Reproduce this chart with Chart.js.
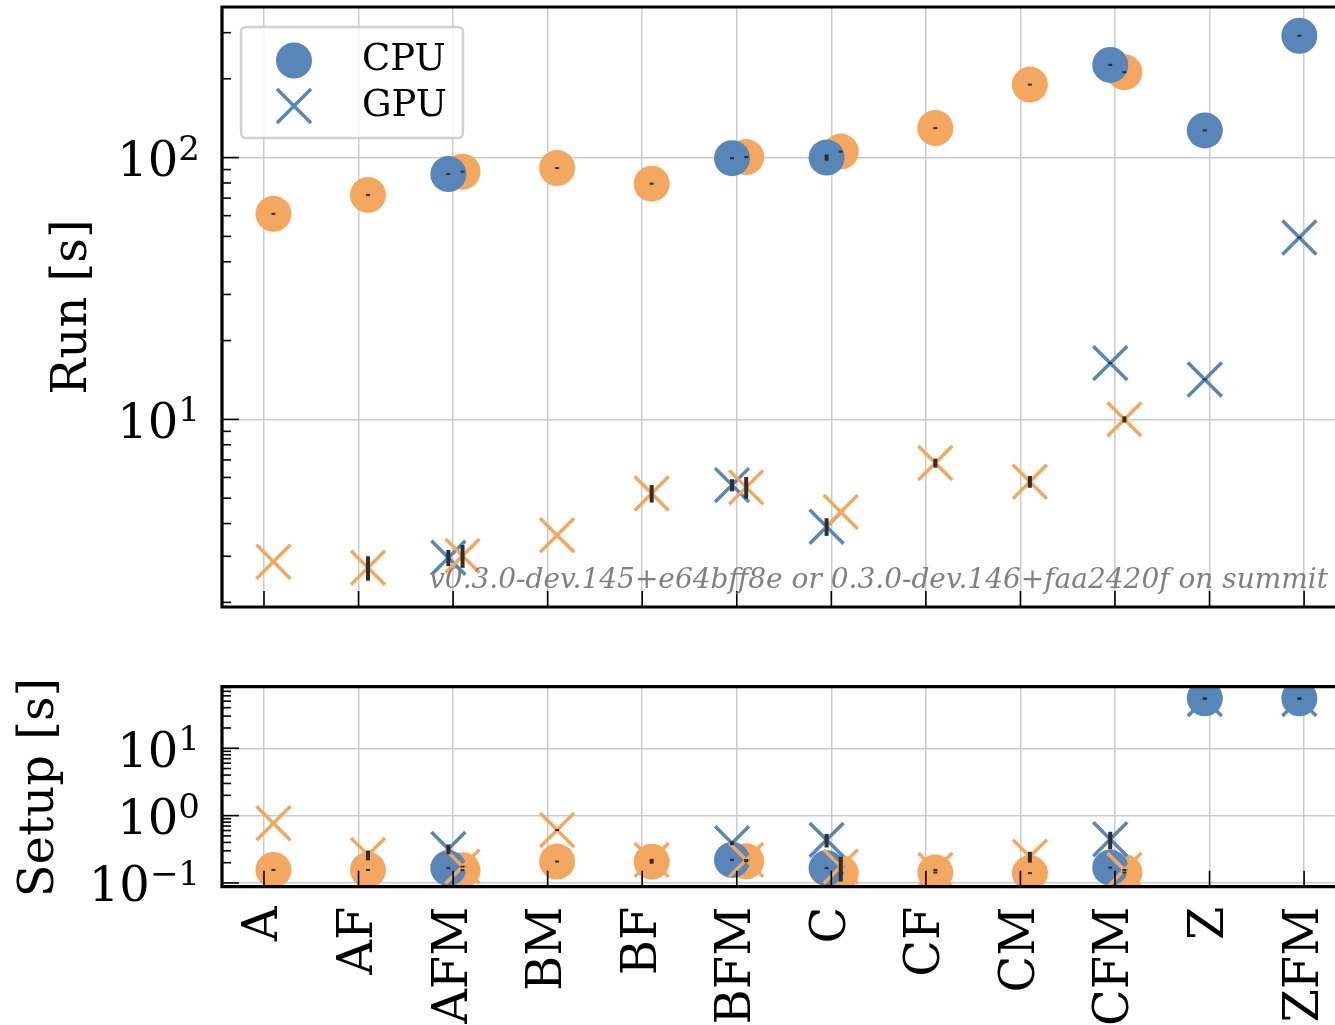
<!DOCTYPE html>
<html>
<head>
<meta charset="utf-8">
<script src="https://cdn.jsdelivr.net/npm/chart.js@4.4.1/dist/chart.umd.min.js"></script>
<style>
  html, body { margin: 0; padding: 0; background: #fff; overflow: hidden; }
  #wrap { position: relative; width: 1335px; height: 1025px; }
  .box { position: absolute; left: 0; width: 1335px; }
  #runBox { top: 0; height: 640px; }
  #setupBox { top: 640px; height: 385px; }
</style>
</head>
<body>
<div id="wrap">
  <div class="box" id="runBox"><canvas id="run" width="1335" height="640"></canvas></div>
  <div class="box" id="setupBox"><canvas id="setup" width="1335" height="385"></canvas></div>
</div>
<script>
const categories = ["A", "AF", "AFM", "BM", "BF", "BFM", "C", "CF", "CM", "CFM", "Z", "ZFM"];

// run time [s], blue = one build, orange = the other
const runCpuBlue   = [null, null, 86.5, null, null, 99.5, 100, null, null, 226, 127, 292];
const runCpuOrange = [61, 72, 88.3, 91.2, 79.5, 100.5, 105.4, 129.6, 190, 212, null, null];
const runGpuBlue   = [null, null, 2.96, null, null, 5.61, 3.89, null, null, 16.4, 14.2, 49.5];
const runGpuOrange = [2.86, 2.71, 3.01, 3.61, 5.21, 5.5, 4.43, 6.81, 5.78, 10.0, null, null];
// +/- error on run time
const runCpuBlueErr   = [null, null, 0.6, null, null, 0.8, 2.7, null, null, 1.5, 0.8, 1.5];
const runCpuOrangeErr = [0.4, 0.6, 0.6, 0.6, 0.5, 0.8, 0.8, 0.8, 1.2, 1.5, null, null];
const runGpuBlueErr   = [null, null, 0.21, null, null, 0.3, 0.3, null, null, 0.14, 0.08, 0.3];
const runGpuOrangeErr = [null, 0.29, 0.3, null, 0.4, 0.52, null, 0.27, 0.3, 0.27, null, null];

// setup time [s]
const setupCpuBlue   = [null, null, 0.166, null, null, 0.22, 0.166, null, null, 0.169, 55.2, 55.2];
const setupCpuOrange = [0.156, 0.156, 0.155, 0.208, 0.207, 0.21, 0.14, 0.143, 0.14, 0.143, null, null];
const setupGpuBlue   = [null, null, 0.32, null, null, 0.39, 0.436, null, null, 0.446, 54, 54];
const setupGpuOrange = [0.77, 0.26, 0.175, 0.61, 0.22, 0.22, 0.175, 0.156, 0.246, 0.156, null, null];
const setupCpuBlueErr   = [null, null, 0.002, null, null, 0.003, 0.002, null, null, 0.002, 0.5, 0.5];
const setupCpuOrangeErr = [0.002, 0.002, 0.002, 0.002, 0.014, 0.004, 0.002, 0.004, 0.002, 0.004, null, null];
const setupGpuBlueErr   = [null, null, 0.053, null, null, 0.027, 0.1, null, null, 0.13, 0.5, 0.5];
const setupGpuOrangeErr = [null, 0.043, 0.005, 0.01, 0.004, 0.004, 0.07, 0.004, 0.045, 0.004, null, null];

const runTicks = [10, 100];
const setupTicks = [0.1, 1, 10];
const legendLabels = ["CPU", "GPU"];
const noteText = "v0.3.0-dev.145+e64bff8e or 0.3.0-dev.146+faa2420f on summit";

const BLUE = "#5886b8";
const ORANGE = "#f4a75e";
const GRID = "#cbcbcb";
const FONT = '"DejaVu Serif", serif';
const OFF_BLUE = -0.05, OFF_ORANGE = 0.1;

function ds(vals, errs, color, style, off) {
  return {
    data: vals.map((v, i) => (v == null ? null : { x: i + off, y: v, e: errs[i] })).filter((p) => p),
    pointStyle: style,
    pointRadius: style === "circle" ? 18 : 24,
    pointHoverRadius: style === "circle" ? 18 : 24,
    pointBorderWidth: style === "circle" ? 0 : 3.5,
    pointHoverBorderWidth: style === "circle" ? 0 : 3.5,
    backgroundColor: color,
    borderColor: color,
    showLine: false,
  };
}

// first listed is drawn on top
function makeSets(cB, cO, gB, gO, ecB, ecO, egB, egO) {
  return [
    ds(gO, egO, ORANGE, "crossRot", OFF_ORANGE),
    ds(cB, ecB, BLUE, "circle", OFF_BLUE),
    ds(gB, egB, BLUE, "crossRot", OFF_BLUE),
    ds(cO, ecO, ORANGE, "circle", OFF_ORANGE),
  ];
}

const errorBars = {
  id: "errorBars",
  afterDatasetsDraw(chart) {
    const { ctx, chartArea: a, scales: { x, y } } = chart;
    ctx.save();
    ctx.beginPath();
    ctx.rect(a.left, a.top, a.right - a.left, a.bottom - a.top);
    ctx.clip();
    ctx.fillStyle = "#2e2e2e";
    chart.data.datasets.forEach((d) => {
      d.data.forEach((p) => {
        if (p.e == null) return;
        const px = x.getPixelForValue(p.x);
        const y1 = y.getPixelForValue(p.y + p.e);
        const y2 = y.getPixelForValue(Math.max(p.y - p.e, 1e-6));
        const h = Math.max(2, y2 - y1);
        const cy = (y1 + y2) / 2;
        ctx.fillRect(px - 2, cy - h / 2, 4, h);
      });
    });
    ctx.restore();
  },
};

const axesDeco = {
  id: "axesDeco",
  afterDraw(chart, args, o) {
    const { ctx, chartArea: a, scales: { x, y } } = chart;
    ctx.save();
    // inward ticks
    ctx.strokeStyle = "#000";
    ctx.lineWidth = 1.6;
    categories.forEach((c, i) => {
      const px = x.getPixelForValue(i);
      ctx.beginPath();
      ctx.moveTo(px, a.bottom);
      ctx.lineTo(px, a.bottom - 16);
      ctx.stroke();
    });
    const lo = Math.floor(Math.log10(y.min)), hi = Math.ceil(Math.log10(y.max));
    for (let k = lo; k <= hi; k++) {
      for (let m = 1; m <= 9; m++) {
        const v = m * Math.pow(10, k);
        if (v < y.min || v > y.max) continue;
        const py = y.getPixelForValue(v);
        ctx.beginPath();
        ctx.moveTo(a.left, py);
        ctx.lineTo(a.left + (m === 1 ? 17 : 9), py);
        ctx.stroke();
      }
    }
    // spines
    ctx.lineWidth = 3.2;
    ctx.beginPath();
    ctx.moveTo(a.left, a.bottom);
    ctx.lineTo(a.left, a.top);
    ctx.moveTo(a.left - 1.6, a.top);
    ctx.lineTo(a.right, a.top);
    ctx.moveTo(a.left - 1.6, a.bottom);
    ctx.lineTo(a.right, a.bottom);
    ctx.stroke();

    // y tick labels 10^n
    ctx.fillStyle = "#000";
    o.ticks.forEach((v) => {
      const py = y.getPixelForValue(v);
      const ex = Math.round(Math.log10(v));
      const sup = (ex < 0 ? "\u2212" : "") + Math.abs(ex);
      ctx.font = "34px " + FONT;
      const ws = ctx.measureText(sup).width;
      ctx.textAlign = "left";
      ctx.textBaseline = "alphabetic";
      const right = 200;
      ctx.fillText(sup, right - ws, py + 2);
      ctx.font = "48px " + FONT;
      ctx.textAlign = "right";
      ctx.fillText("10", right - ws, py + 18.5);
    });

    // y title
    ctx.font = "48px " + FONT;
    ctx.save();
    ctx.translate(o.titleX, o.titleY);
    ctx.rotate(-Math.PI / 2);
    ctx.textAlign = "center";
    ctx.textBaseline = "alphabetic";
    ctx.fillText(o.title, 0, 0);
    ctx.restore();

    // x labels
    if (o.xLabels) {
      categories.forEach((c, i) => {
        const px = x.getPixelForValue(i);
        ctx.save();
        ctx.translate(px, a.bottom + 20);
        ctx.rotate(-Math.PI / 2);
        ctx.textAlign = "right";
        ctx.textBaseline = "alphabetic";
        ctx.fillText(c, 0, 13.5);
        ctx.restore();
      });
    }

    // legend
    if (o.legend) {
      ctx.fillStyle = "rgba(255,255,255,0.8)";
      ctx.strokeStyle = "#d0d0d0";
      ctx.lineWidth = 2.5;
      ctx.beginPath();
      ctx.roundRect(241, 27, 222, 111, 5);
      ctx.fill();
      ctx.stroke();
      ctx.fillStyle = BLUE;
      ctx.beginPath();
      ctx.arc(294, 60.5, 18, 0, Math.PI * 2);
      ctx.fill();
      ctx.strokeStyle = BLUE;
      ctx.lineWidth = 3.5;
      ctx.beginPath();
      ctx.moveTo(277, 89); ctx.lineTo(311, 123);
      ctx.moveTo(311, 89); ctx.lineTo(277, 123);
      ctx.stroke();
      ctx.fillStyle = "#000";
      ctx.font = "37px " + FONT;
      ctx.textAlign = "left";
      ctx.fillText(legendLabels[0], 362, 70);
      ctx.fillText(legendLabels[1], 362, 116);
    }

    // note
    if (o.note) {
      ctx.fillStyle = "#808080";
      ctx.font = "italic 28px " + FONT;
      ctx.textAlign = "right";
      ctx.fillText(o.note, 1328, 588);
    }
    ctx.restore();
  },
};

function makeChart(id, sets, yMin, yMax, yTicks, padTop, xHeight, deco) {
  return new Chart(document.getElementById(id), {
    type: "scatter",
    data: { datasets: sets },
    plugins: [errorBars, axesDeco],
    options: {
      responsive: false,
      animation: false,
      events: [],
      layout: { autoPadding: false, padding: { top: padTop, left: 0, right: 0, bottom: 0 } },
      plugins: {
        legend: { display: false },
        tooltip: { enabled: false },
        axesDeco: deco,
      },
      scales: {
        x: {
          type: "linear",
          min: -0.444,
          max: 11.327,
          afterBuildTicks: (s) => { s.ticks = categories.map((c, i) => ({ value: i })); },
          afterFit: (s) => { s.height = xHeight; },
          ticks: { display: false },
          border: { display: false },
          grid: { color: GRID, lineWidth: 1.5, drawTicks: false },
        },
        y: {
          type: "logarithmic",
          min: yMin,
          max: yMax,
          afterBuildTicks: (s) => { s.ticks = yTicks.map((v) => ({ value: v })); },
          afterFit: (s) => { s.width = 222; },
          ticks: { display: false },
          border: { display: false },
          grid: { color: GRID, lineWidth: 1.5, drawTicks: false },
        },
      },
    },
  });
}

makeChart(
  "run",
  makeSets(runCpuBlue, runCpuOrange, runGpuBlue, runGpuOrange,
           runCpuBlueErr, runCpuOrangeErr, runGpuBlueErr, runGpuOrangeErr),
  1.92, 376, runTicks, 7, 33,
  { ticks: runTicks, title: "Run [s]", titleX: 86, titleY: 307, xLabels: false, legend: true, note: noteText }
);

makeChart(
  "setup",
  makeSets(setupCpuBlue, setupCpuOrange, setupGpuBlue, setupGpuOrange,
           setupCpuBlueErr, setupCpuOrangeErr, setupGpuBlueErr, setupGpuOrangeErr),
  0.088, 82, setupTicks, 46.7, 138.3,
  { ticks: setupTicks, title: "Setup [s]", titleX: 53, titleY: 147.5, xLabels: true, legend: false, note: null }
);
</script>
</body>
</html>
